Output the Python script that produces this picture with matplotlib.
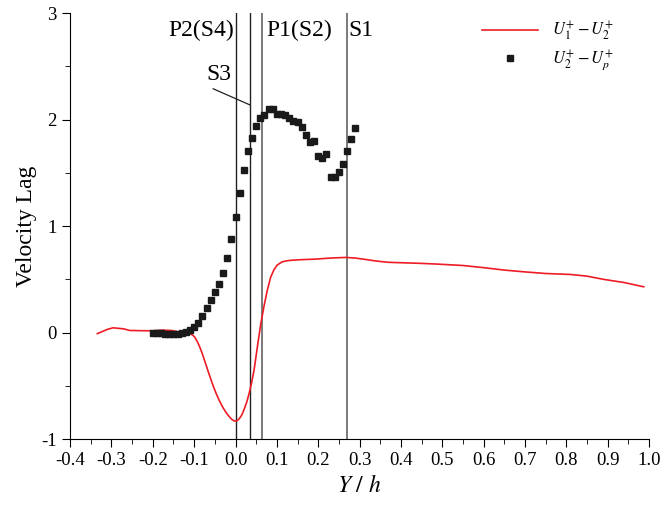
import matplotlib
matplotlib.use('Agg')
import matplotlib.pyplot as plt
import numpy as np
from matplotlib.ticker import MultipleLocator

plt.rcParams['font.family'] = ['Liberation Serif', 'DejaVu Serif']
plt.rcParams['mathtext.fontset'] = 'stix'

# red curve: U1+ - U2+
lag12_x = [-0.334, -0.31, -0.296, -0.27, -0.256, -0.23, -0.20, -0.176, -0.155, -0.135,
           -0.12, -0.111, -0.105, -0.099, -0.093, -0.087, -0.081, -0.075, -0.069, -0.063,
           -0.055, -0.047, -0.039, -0.031, -0.023, -0.015, -0.009, -0.003, 0.003, 0.009,
           0.015, 0.021, 0.027, 0.033, 0.039, 0.045, 0.053, 0.061, 0.069, 0.077,
           0.085, 0.093, 0.101, 0.113, 0.125, 0.137, 0.16, 0.193, 0.23, 0.266,
           0.29, 0.314, 0.34, 0.37, 0.41, 0.45, 0.49, 0.55, 0.60, 0.65,
           0.70, 0.75, 0.81, 0.85, 0.89, 0.94, 0.987]
lag12_y = [-0.01, 0.03, 0.045, 0.035, 0.02, 0.018, 0.017, 0.023, 0.02, 0.005,
           0.0, -0.01, -0.02, -0.04, -0.08, -0.13, -0.19, -0.26, -0.33, -0.40,
           -0.49, -0.57, -0.64, -0.70, -0.75, -0.79, -0.815, -0.83, -0.83, -0.81,
           -0.775, -0.72, -0.655, -0.57, -0.47, -0.35, -0.13, 0.08, 0.25, 0.40,
           0.52, 0.59, 0.635, 0.665, 0.675, 0.68, 0.685, 0.69, 0.70, 0.706,
           0.70, 0.687, 0.672, 0.66, 0.655, 0.65, 0.643, 0.63, 0.61, 0.587,
           0.57, 0.555, 0.546, 0.53, 0.50, 0.47, 0.43]

# square markers: U2+ - Up+
lag2p_x = [round(-0.20 + 0.01 * k, 2) for k in range(50)]
lag2p_y = [0.0, 0.0, -0.005, -0.01, -0.01, -0.01, -0.01, 0.0, 0.01, 0.02,
           0.05, 0.09, 0.16, 0.23, 0.31, 0.38, 0.46, 0.56, 0.70, 0.88,
           1.09, 1.31, 1.53, 1.71, 1.83, 1.94, 2.02, 2.04, 2.10, 2.10,
           2.05, 2.05, 2.04, 2.02, 1.99, 1.98, 1.93, 1.86, 1.79, 1.80,
           1.66, 1.64, 1.68, 1.46, 1.46, 1.51, 1.58, 1.71, 1.82, 1.92]

# reference stations
line_x = [0.0, 0.034, 0.064, 0.269]
line_col = ['#222222', '#222222', '#7a7a7a', '#7a7a7a']
line_w = [1.0, 1.0, 1.4, 1.4]

fig = plt.figure(figsize=(6.61, 5.07), dpi=100)
ax = fig.add_axes([0.106, 0.134, 0.876, 0.840])

for xv, c, w in zip(line_x, line_col, line_w):
    ax.plot([xv, xv], [-1, 3], color=c, lw=w, zorder=1)

ax.plot(lag12_x, lag12_y, color='#ee1c25', lw=1.2, label=r'$U_1^{+}-U_2^{+}$', zorder=3)
ax.plot(lag2p_x, lag2p_y, ls='none', marker='s', ms=5, color='#1a1a1a',
        label=r'$U_2^{+}-U_p^{+}$', zorder=4)

ax.text(-0.004, 2.84, 'P2(S4)', fontsize=17, ha='right', va='center')
ax.text(0.074, 2.84, 'P1(S2)', fontsize=17, ha='left', va='center')
ax.text(0.273, 2.84, 'S1', fontsize=17, ha='left', va='center')
ax.text(-0.04, 2.42, 'S3', fontsize=17, ha='center', va='center')
ax.plot([-0.054, 0.034], [2.29, 2.14], color='#222222', lw=0.9)

ax.set_xlim(-0.4, 1.0)
ax.set_ylim(-1, 3)
ax.xaxis.set_major_locator(MultipleLocator(0.1))
ax.xaxis.set_minor_locator(MultipleLocator(0.05))
ax.yaxis.set_major_locator(MultipleLocator(1))
ax.yaxis.set_minor_locator(MultipleLocator(0.5))
ax.set_xticklabels([f'{v:.1f}' for v in ax.get_xticks()])
ax.set_yticklabels([f'{v:.0f}' for v in ax.get_yticks()])
ax.tick_params(which='both', direction='out', labelsize=13.5)
ax.tick_params(which='major', length=6)
ax.tick_params(which='minor', length=3.5)
for s in ['top', 'right']:
    ax.spines[s].set_visible(False)

ax.set_xlabel(r'$Y\ /\ h$', fontsize=17)
ax.set_ylabel('Velocity Lag', fontsize=17, labelpad=3)

ax.legend(loc='upper right', frameon=False, fontsize=12, handlelength=3.4,
          labelspacing=0.35, bbox_to_anchor=(0.965, 1.02))

fig.savefig('out.png', dpi=100)
